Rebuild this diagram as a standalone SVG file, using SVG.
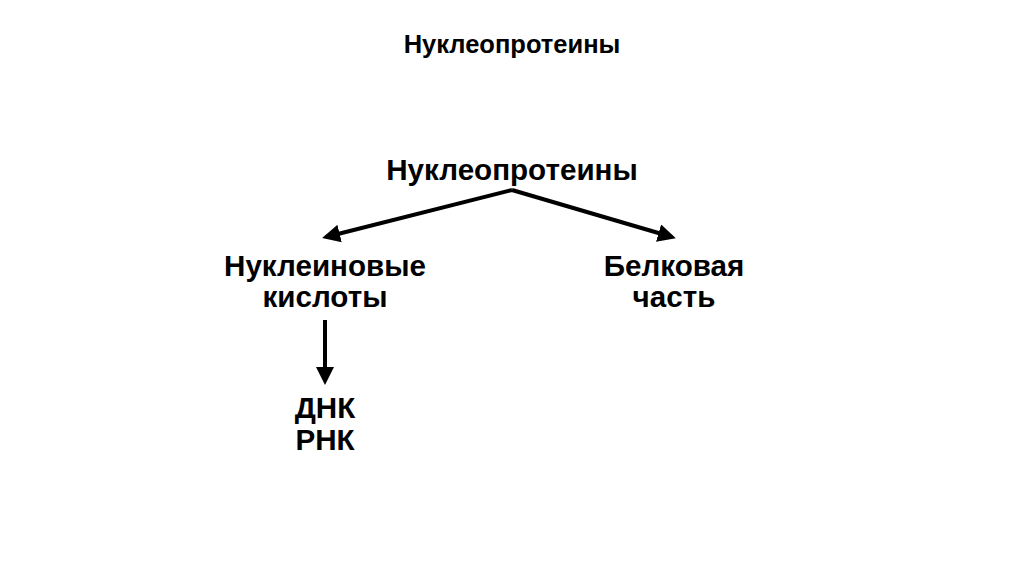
<svg xmlns="http://www.w3.org/2000/svg" width="1024" height="574" viewBox="0 0 1024 574">
<defs>
<marker id="ah" markerWidth="4.5" markerHeight="4.5" refX="3.5" refY="2.25" orient="auto" markerUnits="strokeWidth">
<path d="M0,0 L4.5,2.25 L0,4.5 Z" fill="#000"/>
</marker>
<style>
text{font-family:"Liberation Sans",Arial,sans-serif;font-weight:bold;fill:#000;text-anchor:middle}
.c{stroke:#000;stroke-width:4;fill:none;marker-end:url(#ah)}
</style>
</defs>
<rect width="1024" height="574" fill="#fff"/>
<text x="512" y="53" font-size="25.5">Нуклеопротеины</text>
<g id="root"><text x="512" y="180" font-size="29.6">Нуклеопротеины</text></g>
<g id="nucleic"><text x="325" y="276" font-size="29.6">Нуклеиновые</text><text x="325" y="307" font-size="29.6">кислоты</text></g>
<g id="protein"><text x="674" y="276" font-size="29.6">Белковая</text><text x="674" y="307" font-size="29.6">часть</text></g>
<g id="dna"><text x="325" y="418" font-size="29.6">ДНК</text><text x="325" y="450" font-size="29.6">РНК</text></g>
<g id="connectors">
<path class="c" d="M512,190 L326,237"/>
<path class="c" d="M512,190 L672,237"/>
<path class="c" d="M325,320 L325,381"/>
</g>
</svg>
